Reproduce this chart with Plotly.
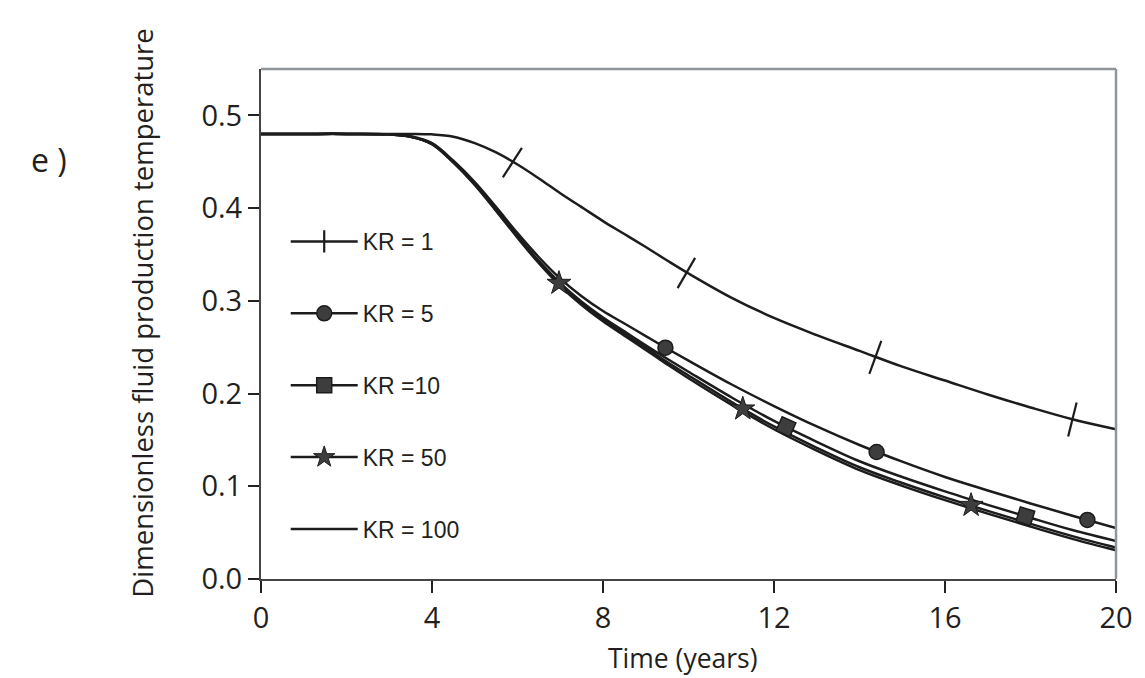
import plotly.graph_objects as go

# ---------------- data ----------------
time_years = [0, 1, 2, 3, 3.5, 4, 4.5, 5, 5.5, 6, 6.5, 7, 7.5, 8, 8.5, 9, 9.5,
              10, 11, 12, 13, 14, 15, 16, 17, 18, 19, 20]

temp_kr1 = [0.48, 0.48, 0.48, 0.48, 0.48, 0.4795, 0.477, 0.470, 0.460, 0.447,
            0.432, 0.416, 0.401, 0.386, 0.372, 0.358, 0.3435, 0.3295, 0.3035,
            0.2815, 0.263, 0.246, 0.229, 0.214, 0.199, 0.185, 0.172, 0.1615]
temp_kr5 = [0.48, 0.48, 0.48, 0.4795, 0.4775, 0.470, 0.451, 0.428, 0.401, 0.373,
            0.347, 0.324, 0.305, 0.289, 0.2755, 0.262, 0.2485, 0.2355, 0.210,
            0.1865, 0.1645, 0.1445, 0.1265, 0.110, 0.0955, 0.0815, 0.068, 0.055]
temp_kr10 = [0.48, 0.48, 0.48, 0.4795, 0.477, 0.4695, 0.450, 0.426, 0.3985, 0.3695,
             0.343, 0.319, 0.299, 0.282, 0.267, 0.252, 0.2375, 0.2235, 0.196,
             0.1705, 0.148, 0.127, 0.110, 0.0945, 0.080, 0.066, 0.0525, 0.041]
temp_kr50 = [0.48, 0.48, 0.48, 0.4795, 0.477, 0.469, 0.4495, 0.4255, 0.3975, 0.369,
             0.3415, 0.318, 0.2975, 0.280, 0.2645, 0.2495, 0.234, 0.2195, 0.191,
             0.1645, 0.1415, 0.1205, 0.1035, 0.088, 0.0735, 0.0595, 0.046, 0.034]
temp_kr100 = [0.48, 0.48, 0.48, 0.4795, 0.477, 0.469, 0.449, 0.425, 0.397, 0.368,
              0.3405, 0.316, 0.2955, 0.278, 0.2625, 0.247, 0.2315, 0.2165, 0.188,
              0.1615, 0.1385, 0.1175, 0.1005, 0.085, 0.0705, 0.0565, 0.043, 0.031]

# marker positions along the curves
mark_kr1_x = [5.88, 9.95, 14.37, 18.98]
mark_kr1_y = [0.449, 0.330, 0.239, 0.172]
mark_kr1_angle = [33, 30, 20, 14]
mark_kr5_x = [9.46, 14.40, 19.33]
mark_kr5_y = [0.2495, 0.137, 0.0637]
mark_kr10_x = [12.28, 17.88]
mark_kr10_y = [0.1642, 0.0677]
mark_kr10_angle = [24, 17]
mark_kr50_x = [6.97, 11.27, 16.61]
mark_kr50_y = [0.319, 0.1835, 0.0795]

legend_labels = ["KR = 1", "KR = 5", "KR =10", "KR = 50", "KR = 100"]
x_ticks = [0, 4, 8, 12, 16, 20]
y_ticks = [0.0, 0.1, 0.2, 0.3, 0.4, 0.5]

# ---------------- styling ----------------
INK = "#1c1c1c"
FILL = "#3d3d3d"
LW = 2.5
TXT = "#231f20"

fig = go.Figure()

curves = [temp_kr1, temp_kr5, temp_kr10, temp_kr50, temp_kr100]
for ys in curves:
    fig.add_trace(go.Scatter(x=time_years, y=ys, mode="lines",
                             line=dict(color=INK, width=LW, shape="spline", smoothing=1.0),
                             showlegend=False, hoverinfo="skip"))

fig.add_trace(go.Scatter(x=mark_kr1_x, y=mark_kr1_y, mode="markers", showlegend=False,
                         marker=dict(symbol="line-ns", size=25, angle=mark_kr1_angle,
                                     line=dict(color=INK, width=2.2))))
fig.add_trace(go.Scatter(x=mark_kr5_x, y=mark_kr5_y, mode="markers", showlegend=False,
                         marker=dict(symbol="circle", size=15, color=FILL,
                                     line=dict(color=INK, width=1.5))))
fig.add_trace(go.Scatter(x=mark_kr10_x, y=mark_kr10_y, mode="markers", showlegend=False,
                         marker=dict(symbol="square", size=15, color=FILL,
                                     angle=mark_kr10_angle,
                                     line=dict(color=INK, width=1.5))))
fig.add_trace(go.Scatter(x=mark_kr50_x, y=mark_kr50_y, mode="markers", showlegend=False,
                         marker=dict(symbol="star", size=18, color=FILL,
                                     line=dict(color=INK, width=1))))

# legend entries
legend_markers = [
    dict(symbol="line-ns", size=16, line=dict(color=INK, width=2.2)),
    dict(symbol="circle", size=15, color=FILL, line=dict(color=INK, width=1.5)),
    dict(symbol="square", size=15, color=FILL, line=dict(color=INK, width=1.5)),
    dict(symbol="star", size=16, color=FILL, line=dict(color=INK, width=1)),
    None,
]
for i, (lab, mk) in enumerate(zip(legend_labels, legend_markers)):
    if mk is None:
        fig.add_trace(go.Scatter(x=[None], y=[None], mode="lines", name=lab,
                                 legendgroup=f"g{i}", line=dict(color=INK, width=LW)))
    else:
        fig.add_trace(go.Scatter(x=[None], y=[None], mode="lines+markers", name=lab,
                                 legendgroup=f"g{i}", line=dict(color=INK, width=LW),
                                 marker=mk))

axis_dark = "#454545"
tick_font = dict(family="Open Sans", size=29, color=TXT)

# the page adds an 8px body margin, so the figure is sized to fit the window
fig.update_layout(
    width=1137, height=670,
    margin=dict(l=253, r=20, t=61, b=99),
    paper_bgcolor="white", plot_bgcolor="white",
    xaxis=dict(range=[0, 20], tickvals=x_ticks, ticktext=[str(v) for v in x_ticks],
               showgrid=False, zeroline=False, showline=True, linecolor=axis_dark,
               linewidth=2, ticks="outside", ticklen=12, tickwidth=1.5,
               tickcolor="#222", tickfont=tick_font),
    yaxis=dict(range=[0, 0.55], tickvals=y_ticks, ticktext=[f"{v:.1f}" for v in y_ticks],
               showgrid=False, zeroline=False, showline=True, linecolor=axis_dark,
               linewidth=2, ticks="outside", ticklen=11, tickwidth=1.5,
               tickcolor="#222", tickfont=tick_font),
    legend=dict(x=0.0289, y=0.704, xanchor="left", yanchor="top",
                font=dict(family="Liberation Sans", size=23, color=TXT),
                tracegroupgap=39, itemwidth=67, bgcolor="rgba(0,0,0,0)"),
    shapes=[
        dict(type="line", xref="paper", yref="paper", x0=0, x1=1, y0=1, y1=1,
             line=dict(color="#8e959b", width=2.5)),
        dict(type="line", xref="paper", yref="paper", x0=1, x1=1, y0=0, y1=1,
             line=dict(color="#8e959b", width=2.5)),
    ],
    annotations=[
        dict(text="Time (years)", xref="paper", yref="paper", x=0.494, y=-0.155,
             xanchor="center", yanchor="middle", showarrow=False,
             font=dict(family="Open Sans", size=26.5, color=TXT)),
        dict(text="Dimensionless fluid production temperature", xref="paper", yref="paper",
             x=-0.139, y=0.5206, xanchor="center", yanchor="middle", textangle=-90,
             showarrow=False, font=dict(family="Open Sans", size=27.5, color=TXT)),
        dict(text="e )", xref="paper", yref="paper", x=-0.2477, y=0.8216,
             xanchor="center", yanchor="middle", showarrow=False,
             font=dict(family="Open Sans", size=32, color=TXT)),
    ],
)

fig.write_html("out.html")
